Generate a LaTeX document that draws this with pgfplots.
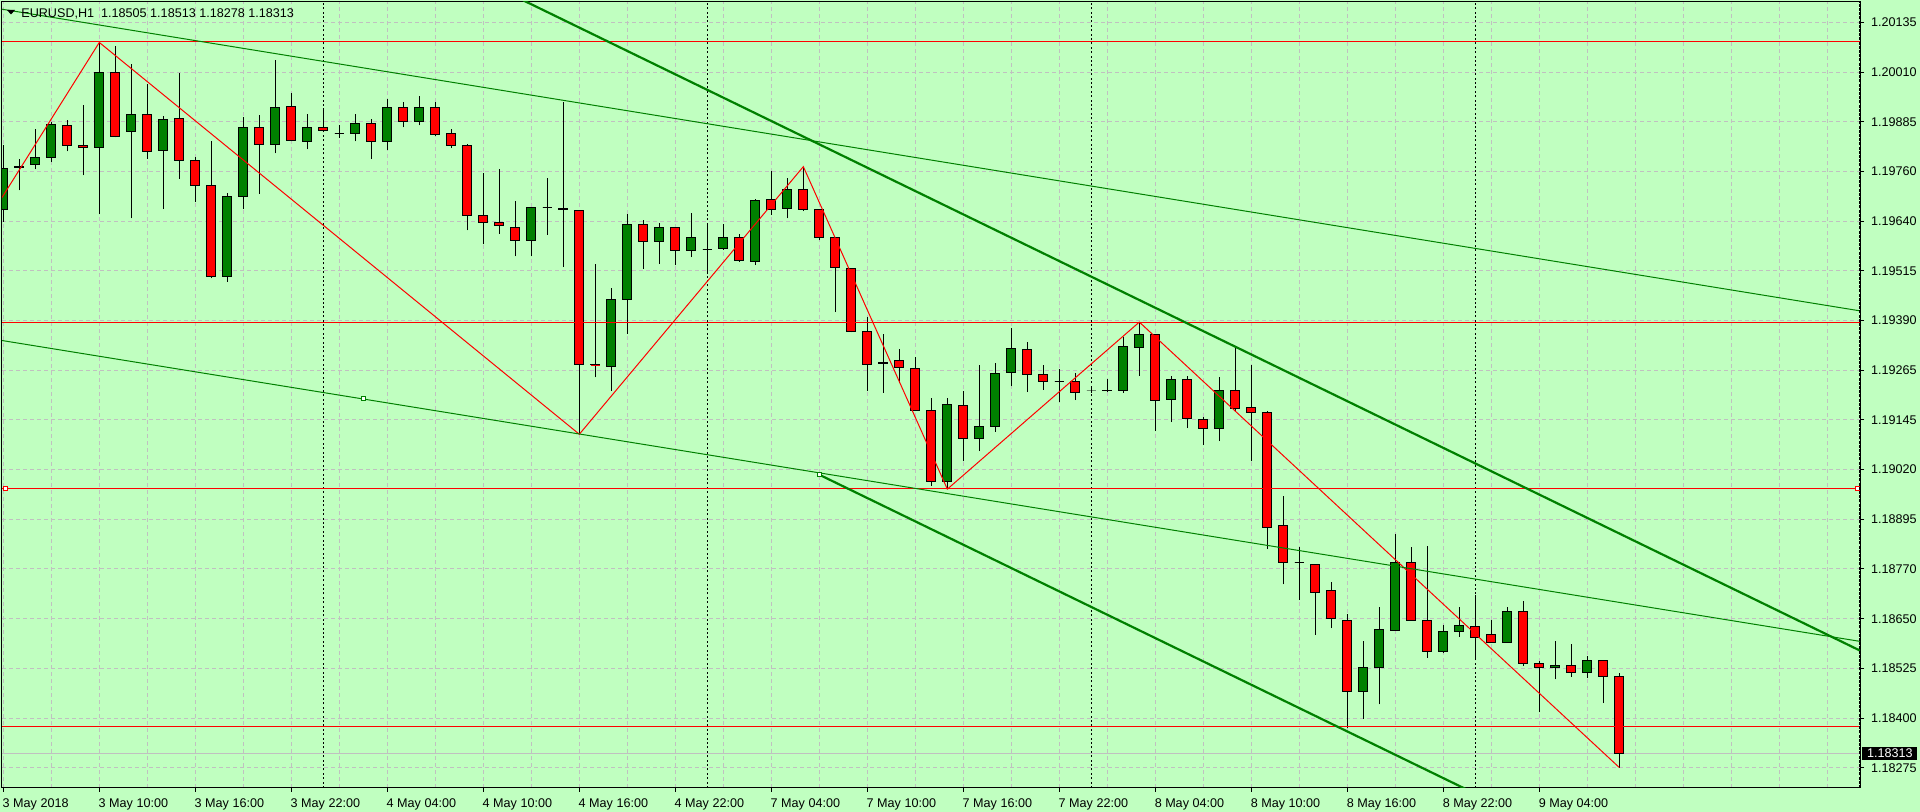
\documentclass[border=0pt]{standalone}
\usepackage{fontspec}
\setmainfont{Liberation Sans}
\usepackage{pgfplots}
\usepackage{pgfplotstable}
\pgfplotsset{compat=1.18}
\definecolor{bg}{RGB}{192,255,192}
\definecolor{bull}{RGB}{0,128,0}
\definecolor{bear}{RGB}{255,0,0}
\definecolor{gridc}{RGB}{192,192,192}
\definecolor{lg}{RGB}{0,128,0}
\definecolor{bidc}{RGB}{192,192,192}
\newcommand{\mtfont}{\fontsize{6.3}{7.5}\selectfont}

\pgfplotstableread{
i o h l c
0 1.19670 1.19831 1.19640 1.19774
1 1.19775 1.19796 1.19719 1.19779
2 1.19783 1.19872 1.19771 1.19802
3 1.19801 1.19889 1.19789 1.19882
4 1.19881 1.19894 1.19816 1.19831
5 1.19831 1.19932 1.19756 1.19826
6 1.19826 1.20088 1.19659 1.20013
7 1.20013 1.20079 1.19851 1.19852
8 1.19866 1.20034 1.19649 1.19909
9 1.19909 1.19984 1.19798 1.19816
10 1.19819 1.19905 1.19672 1.19896
11 1.19899 1.20012 1.19748 1.19793
12 1.19793 1.19803 1.19690 1.19731
13 1.19731 1.19843 1.19499 1.19504
14 1.19504 1.19713 1.19491 1.19704
15 1.19704 1.19901 1.19672 1.19876
16 1.19876 1.19908 1.19710 1.19834
17 1.19834 1.20044 1.19811 1.19925
18 1.19928 1.19962 1.19841 1.19844
19 1.19841 1.19910 1.19821 1.19876
20 1.19876 1.19924 1.19866 1.19868
21 1.19861 1.19882 1.19850 1.19861
22 1.19861 1.19910 1.19841 1.19886
23 1.19886 1.19896 1.19798 1.19841
24 1.19841 1.19947 1.19819 1.19925
25 1.19925 1.19939 1.19876 1.19891
26 1.19891 1.19955 1.19881 1.19925
27 1.19925 1.19939 1.19855 1.19858
28 1.19861 1.19873 1.19824 1.19831
29 1.19831 1.19834 1.19619 1.19657
30 1.19657 1.19761 1.19584 1.19639
31 1.19639 1.19773 1.19611 1.19630
32 1.19626 1.19691 1.19554 1.19594
33 1.19594 1.19678 1.19554 1.19676
34 1.19676 1.19750 1.19608 1.19676
35 1.19673 1.19939 1.19527 1.19670
36 1.19668 1.19668 1.19110 1.19285
37 1.19284 1.19535 1.19252 1.19283
38 1.19280 1.19475 1.19219 1.19447
39 1.19447 1.19659 1.19361 1.19634
40 1.19634 1.19644 1.19523 1.19592
41 1.19592 1.19638 1.19535 1.19626
42 1.19626 1.19626 1.19532 1.19569
43 1.19569 1.19663 1.19552 1.19601
44 1.19572 1.19638 1.19510 1.19572
45 1.19573 1.19635 1.19570 1.19601
46 1.19601 1.19611 1.19541 1.19544
47 1.19541 1.19696 1.19532 1.19694
48 1.19696 1.19767 1.19658 1.19672
49 1.19673 1.19750 1.19649 1.19722
50 1.19722 1.19778 1.19667 1.19670
51 1.19671 1.19671 1.19594 1.19602
52 1.19602 1.19602 1.19415 1.19527
53 1.19523 1.19523 1.19364 1.19367
54 1.19367 1.19402 1.19218 1.19284
55 1.19286 1.19359 1.19213 1.19289
56 1.19295 1.19324 1.19237 1.19277
57 1.19274 1.19303 1.19168 1.19169
58 1.19169 1.19201 1.18982 1.18991
59 1.18991 1.19201 1.18973 1.19184
60 1.19181 1.19218 1.19042 1.19100
61 1.19100 1.19283 1.19068 1.19130
62 1.19130 1.19287 1.19116 1.19262
63 1.19265 1.19376 1.19230 1.19324
64 1.19321 1.19341 1.19215 1.19260
65 1.19260 1.19284 1.19221 1.19242
66 1.19242 1.19274 1.19190 1.19242
67 1.19242 1.19262 1.19195 1.19215
68 1.19218 1.19229 1.19214 1.19218
69 1.19218 1.19247 1.19215 1.19220
70 1.19218 1.19352 1.19213 1.19330
71 1.19327 1.19390 1.19256 1.19359
72 1.19359 1.19361 1.19118 1.19195
73 1.19197 1.19256 1.19140 1.19247
74 1.19247 1.19256 1.19125 1.19150
75 1.19148 1.19153 1.19083 1.19125
76 1.19125 1.19252 1.19093 1.19218
77 1.19218 1.19327 1.19168 1.19174
78 1.19176 1.19284 1.19042 1.19165
79 1.19165 1.19168 1.18823 1.18878
80 1.18881 1.18956 1.18735 1.18789
81 1.18789 1.18828 1.18696 1.18789
82 1.18786 1.18786 1.18610 1.18716
83 1.18719 1.18742 1.18626 1.18649
84 1.18646 1.18661 1.18376 1.18467
85 1.18467 1.18593 1.18399 1.18527
86 1.18527 1.18679 1.18436 1.18623
87 1.18621 1.18862 1.18621 1.18790
88 1.18790 1.18828 1.18644 1.18646
89 1.18644 1.18831 1.18552 1.18568
90 1.18568 1.18633 1.18563 1.18618
91 1.18618 1.18679 1.18605 1.18633
92 1.18631 1.18708 1.18550 1.18603
93 1.18610 1.18646 1.18590 1.18591
94 1.18591 1.18679 1.18589 1.18667
95 1.18667 1.18693 1.18532 1.18537
96 1.18537 1.18545 1.18416 1.18529
97 1.18529 1.18593 1.18498 1.18532
98 1.18532 1.18587 1.18505 1.18515
99 1.18515 1.18556 1.18501 1.18545
100 1.18545 1.18545 1.18439 1.18505
101 1.18505 1.18513 1.18278 1.18313
}\candles

\begin{document}
\begin{tikzpicture}
\path[use as bounding box, fill=bg] (-1pt,-12pt) rectangle (959pt,394pt);
\begin{axis}[
  scale only axis, width=929pt, height=393pt,
  at={(0,0)}, anchor=south west,
  xmin=-0.08125, xmax=116.04, ymin=1.18227, ymax=1.20189,
  axis background/.style={fill=bg},
  axis line style={black, line width=0.5pt},
  clip mode=individual,
  xtick={0,6,...,96},
  xticklabels={3 May 2018, 3 May 10:00, 3 May 16:00, 3 May 22:00, 4 May 04:00, 4 May 10:00, 4 May 16:00, 4 May 22:00, 7 May 04:00, 7 May 10:00, 7 May 16:00, 7 May 22:00, 8 May 04:00, 8 May 10:00, 8 May 16:00, 8 May 22:00, 9 May 04:00},
  minor xtick={0,3,...,114},
  xminorgrids=true, xmajorgrids=false, ymajorgrids=true,
  ytick={1.20138,1.20014,1.19890,1.19766,1.19642,1.19518,1.19394,1.19270,1.19146,1.19022,1.18898,1.18774,1.18649,1.18525,1.18401,1.18277},
  yticklabels={1.20135,1.20010,1.19885,1.19760,1.19640,1.19515,1.19390,1.19265,1.19145,1.19020,1.18895,1.18770,1.18650,1.18525,1.18400,1.18275},
  yticklabel pos=right,
  xtick pos=left, ytick pos=right,
  tick align=outside,
  major tick length=2pt, minor tick length=0pt,
  tick style={black, line width=0.5pt},
  major grid style={gridc, line width=0.5pt, dash pattern=on 2pt off 1.5pt},
  minor grid style={gridc, line width=0.5pt, dash pattern=on 2pt off 1.5pt},
  xticklabel style={anchor=base west, inner sep=0pt, xshift=-0.5pt, yshift=-8pt, font=\mtfont},
  yticklabel style={anchor=west, inner sep=0pt, xshift=3.3pt, font=\mtfont},
  extra x ticks={20,44,68,92}, extra x tick labels={},
  extra x tick style={grid=major, major grid style={black, line width=0.5pt, dash pattern=on 1pt off 1.2pt}, major tick length=0pt},
  extra y ticks={1.18313}, extra y tick labels={1.18313},
  extra y tick style={grid=none, major tick length=0pt, yticklabel style={fill=black, text=white, inner xsep=2.35pt, inner ysep=0.9pt, xshift=-2.3pt}},
]
% bid line
\addplot[bidc, line width=0.5pt, forget plot] coordinates {(-0.08125,1.18313) (116.04,1.18313)};

% candles
\pgfplotstablegetrowsof{\candles}
\pgfmathtruncatemacro{\NN}{\pgfplotsretval-1}
\pgfplotsforeachungrouped \rr in {0,...,\NN}{%
  \pgfplotstablegetelem{\rr}{i}\of{\candles}\let\cI\pgfplotsretval
  \pgfplotstablegetelem{\rr}{o}\of{\candles}\let\cO\pgfplotsretval
  \pgfplotstablegetelem{\rr}{h}\of{\candles}\let\cH\pgfplotsretval
  \pgfplotstablegetelem{\rr}{l}\of{\candles}\let\cL\pgfplotsretval
  \pgfplotstablegetelem{\rr}{c}\of{\candles}\let\cC\pgfplotsretval
  \pgfmathsetmacro{\xA}{\cI-0.28}%
  \pgfmathsetmacro{\xB}{\cI+0.28}%
  \pgfmathtruncatemacro{\kind}{(\cC>\cO) ? 1 : ((\cC<\cO) ? 2 : 0)}%
  \ifnum\kind=1 \def\bcol{bull}\else\ifnum\kind=2 \def\bcol{bear}\else\def\bcol{black}\fi\fi
  \edef\tmp{\noexpand\addplot[black, line width=0.5pt, forget plot] coordinates {(\cI,\cL) (\cI,\cH)};}\tmp
  \edef\tmp{\noexpand\addplot[draw=black, fill=\bcol, line width=0.5pt, forget plot] coordinates {(\xA,\cO) (\xB,\cO) (\xB,\cC) (\xA,\cC)} -- cycle;}\tmp
}

% horizontal red levels
\addplot[red, line width=0.5pt, forget plot] coordinates {(-0.08125,1.20090) (116.04,1.20090)};
\addplot[red, line width=0.5pt, forget plot] coordinates {(-0.08125,1.19390) (116.04,1.19390)};
\addplot[red, line width=0.5pt, forget plot] coordinates {(-0.08125,1.18975) (116.04,1.18975)};
\addplot[red, line width=0.5pt, forget plot] coordinates {(-0.08125,1.18380) (116.04,1.18380)};

% zigzag
\addplot[red, line width=0.5pt, forget plot] coordinates {(-0.08125,1.19701) (6,1.20088) (36,1.19110) (50,1.19778) (59,1.18973) (71,1.19390) (101,1.18278)};

% channel lines
\addplot[lg, line width=0.5pt, forget plot] coordinates {(-0.08125,1.20171) (116.04,1.19418)};
\addplot[lg, line width=0.5pt, forget plot] coordinates {(-0.08125,1.19344) (116.04,1.18593)};
\addplot[lg, line width=1.1pt, forget plot] coordinates {(32.5,1.20193) (116.04,1.18570)};
\addplot[lg, line width=1.1pt, forget plot] coordinates {(51,1.19009) (92.5,1.18203)};

% object anchor markers
\addplot[only marks, mark=square*, mark size=1pt, mark options={draw=lg, fill=white, line width=0.5pt}, forget plot] coordinates {(22.5,1.19198) (51,1.19009)};
\addplot[only marks, mark=square*, mark size=1pt, mark options={draw=red, fill=white, line width=0.5pt}, forget plot] coordinates {(0.125,1.18975) (115.9,1.18975)};
\end{axis}
\draw[black, line width=1pt, dash pattern=on 1.5pt off 0.6pt] (929pt,0pt) -- (929pt,393pt);
\fill[black] (2.5pt,389pt) -- (6.5pt,389pt) -- (4.5pt,386.75pt) -- cycle;
\node[anchor=base west, inner sep=0pt, font=\mtfont] at (9.5pt,385.35pt) {EURUSD,H1\ \ 1.18505 1.18513 1.18278 1.18313};
\end{tikzpicture}
\end{document}
